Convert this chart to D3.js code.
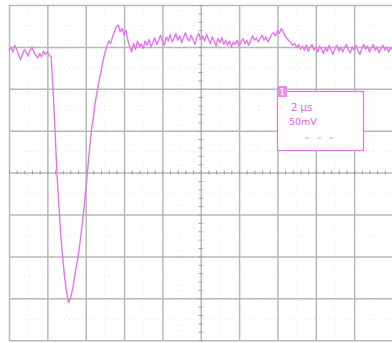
<!DOCTYPE html>
<html>
<head>
<meta charset="utf-8">
<script src="https://cdn.jsdelivr.net/npm/d3@7"></script>
<style>
  html, body { margin: 0; padding: 0; background: #fff; }
  svg { display: block; }
</style>
</head>
<body>
<figure id="scope" style="margin:0"></figure>
<script>
// scope settings
const timePerDiv = 2;      // µs
const voltPerDiv = 50;     // mV
const hDivs = 10;
const vDivs = 8;
const sampleStartUs = 0;
const sampleStepUs = 0.1;

// trace, mV, one sample every 0.1 µs
const voltMv = [
  146, 150, 144, 152, 147, 140, 135, 141, 147, 143,
  139, 146, 150, 144, 140, 137, 142, 138, 145, 141,
  144, 140, 138, 98, 50, 0, -39, -75, -101, -125,
  -142, -155, -150, -141, -128, -113, -101, -84, -65, -46,
  -20, 3, 28, 51, 66, 84, 97, 110, 120, 133,
  143, 150, 157, 154, 162, 168, 174, 176, 168, 172,
  164, 170, 158, 150, 144, 154, 147, 157, 150, 154,
  148, 157, 152, 159, 150, 155, 161, 153, 158, 164,
  157, 152, 162, 157, 165, 156, 160, 166, 158, 163,
  155, 161, 167, 160, 157, 164, 158, 153, 162, 166,
  159, 163, 157, 165, 159, 154, 162, 157, 151, 160,
  155, 161, 153, 158, 152, 157, 150, 156, 153, 158,
  151, 156, 160, 154, 158, 152, 157, 163, 158, 161,
  156, 160, 164, 158, 162, 156, 160, 165, 167, 163,
  169, 166, 172, 168, 163, 160, 157, 155, 152, 154,
  149, 153, 147, 151, 146, 152, 145, 149, 153, 146,
  150, 144, 151, 147, 142, 149, 145, 152, 146, 141,
  148, 152, 145, 150, 144, 149, 153, 146, 143, 150,
  146, 152, 145, 141, 148, 153, 147, 151, 144, 149,
  153, 146, 150, 143, 148, 152, 146, 150, 144, 149,
  147
];

const labelTime = "2 μs";
const labelVolt = "50mV";

const W = 392, H = 343;
const padLeft = 9, padTop = 5, divW = 38.35, divH = 41.9;
const traceColor = "#e278e8";
const gridColor = "#b8b8b8";

const svg = d3.select("figure#scope")
  .append("svg")
  .attr("width", W)
  .attr("height", H);

const x = d3.scaleLinear()
  .domain([0, hDivs * timePerDiv])
  .range([padLeft, padLeft + hDivs * divW]);

const y = d3.scaleLinear()
  .domain([-vDivs / 2 * voltPerDiv, vDivs / 2 * voltPerDiv])
  .range([padTop + vDivs * divH, padTop]);

const tMax = hDivs * timePerDiv;
const vMax = vDivs / 2 * voltPerDiv;

// faint dotted sub-grid
const g = svg.append("g");
const minorT = d3.range(0, tMax + 0.001, timePerDiv / 5);
const minorV = d3.range(-vMax, vMax + 0.001, voltPerDiv / 5);

g.selectAll("line.dotv")
  .data(d3.range(timePerDiv / 2, tMax, timePerDiv))
  .enter().append("line")
  .attr("x1", d => x(d)).attr("x2", d => x(d))
  .attr("y1", y(vMax)).attr("y2", y(-vMax))
  .attr("stroke", "#e6e6e6").attr("stroke-width", 1)
  .attr("stroke-dasharray", "1,4");

g.selectAll("line.doth")
  .data(d3.range(-vMax + voltPerDiv / 2, vMax, voltPerDiv))
  .enter().append("line")
  .attr("x1", x(0)).attr("x2", x(tMax))
  .attr("y1", d => y(d)).attr("y2", d => y(d))
  .attr("stroke", "#e6e6e6").attr("stroke-width", 1)
  .attr("stroke-dasharray", "1,4");

// major grid
g.append("g")
  .attr("transform", "translate(0," + y(-vMax) + ")")
  .call(d3.axisBottom(x)
    .tickValues(d3.range(0, tMax + 0.001, timePerDiv))
    .tickSize(-(y(-vMax) - y(vMax)))
    .tickFormat(""))
  .call(a => a.select(".domain").remove())
  .call(a => a.selectAll("line").attr("stroke", gridColor).attr("stroke-width", 1.5));

g.append("g")
  .attr("transform", "translate(" + x(0) + ",0)")
  .call(d3.axisLeft(y)
    .tickValues(d3.range(-vMax, vMax + 0.001, voltPerDiv))
    .tickSize(-(x(tMax) - x(0)))
    .tickFormat(""))
  .call(a => a.select(".domain").remove())
  .call(a => a.selectAll("line").attr("stroke", gridColor).attr("stroke-width", 1.5));

// centre axes with minor ticks
g.append("g")
  .attr("transform", "translate(0," + (y(0) - 2) + ")")
  .call(d3.axisBottom(x).tickValues(minorT).tickSize(4).tickSizeOuter(0).tickFormat(""))
  .call(a => a.select(".domain").remove())
  .call(a => a.selectAll("line").attr("stroke", "#9e9e9e"));

g.append("g")
  .attr("transform", "translate(" + (x(tMax / 2) + 2) + ",0)")
  .call(d3.axisLeft(y).tickValues(minorV).tickSize(4).tickSizeOuter(0).tickFormat(""))
  .call(a => a.select(".domain").remove())
  .call(a => a.selectAll("line").attr("stroke", "#9e9e9e"));

// trace
const line = d3.line()
  .x((d, i) => x(sampleStartUs + i * sampleStepUs))
  .y(d => y(d));

svg.append("path")
  .datum(voltMv)
  .attr("fill", "none")
  .attr("stroke", traceColor)
  .attr("stroke-width", 1.4)
  .attr("stroke-linejoin", "round")
  .attr("d", line);

// readout box
const box = svg.append("g");
box.append("rect")
  .attr("x", 277.5).attr("y", 91.5)
  .attr("width", 86).attr("height", 59)
  .attr("fill", "#fff")
  .attr("stroke", traceColor).attr("stroke-width", 1.3);
box.append("rect")
  .attr("x", 277).attr("y", 86)
  .attr("width", 10).attr("height", 11)
  .attr("fill", "#e88cec");
box.append("text")
  .attr("x", 282).attr("y", 95)
  .attr("text-anchor", "middle")
  .attr("font-family", "DejaVu Sans, sans-serif")
  .attr("font-size", 9).attr("fill", "#fff")
  .text("1");
box.append("text")
  .attr("x", 291).attr("y", 111)
  .attr("font-family", "DejaVu Sans, sans-serif")
  .attr("font-size", 10).attr("fill", "#dc68e2")
  .text(labelTime);
box.append("text")
  .attr("x", 289).attr("y", 125)
  .attr("font-family", "DejaVu Sans, sans-serif")
  .attr("font-size", 9.5).attr("fill", "#dc68e2")
  .text(labelVolt);
box.append("line")
  .attr("x1", 305).attr("x2", 341)
  .attr("y1", 138).attr("y2", 138)
  .attr("stroke", "#e49ae8").attr("stroke-width", 1.2)
  .attr("stroke-dasharray", "4,8");
</script>
</body>
</html>
